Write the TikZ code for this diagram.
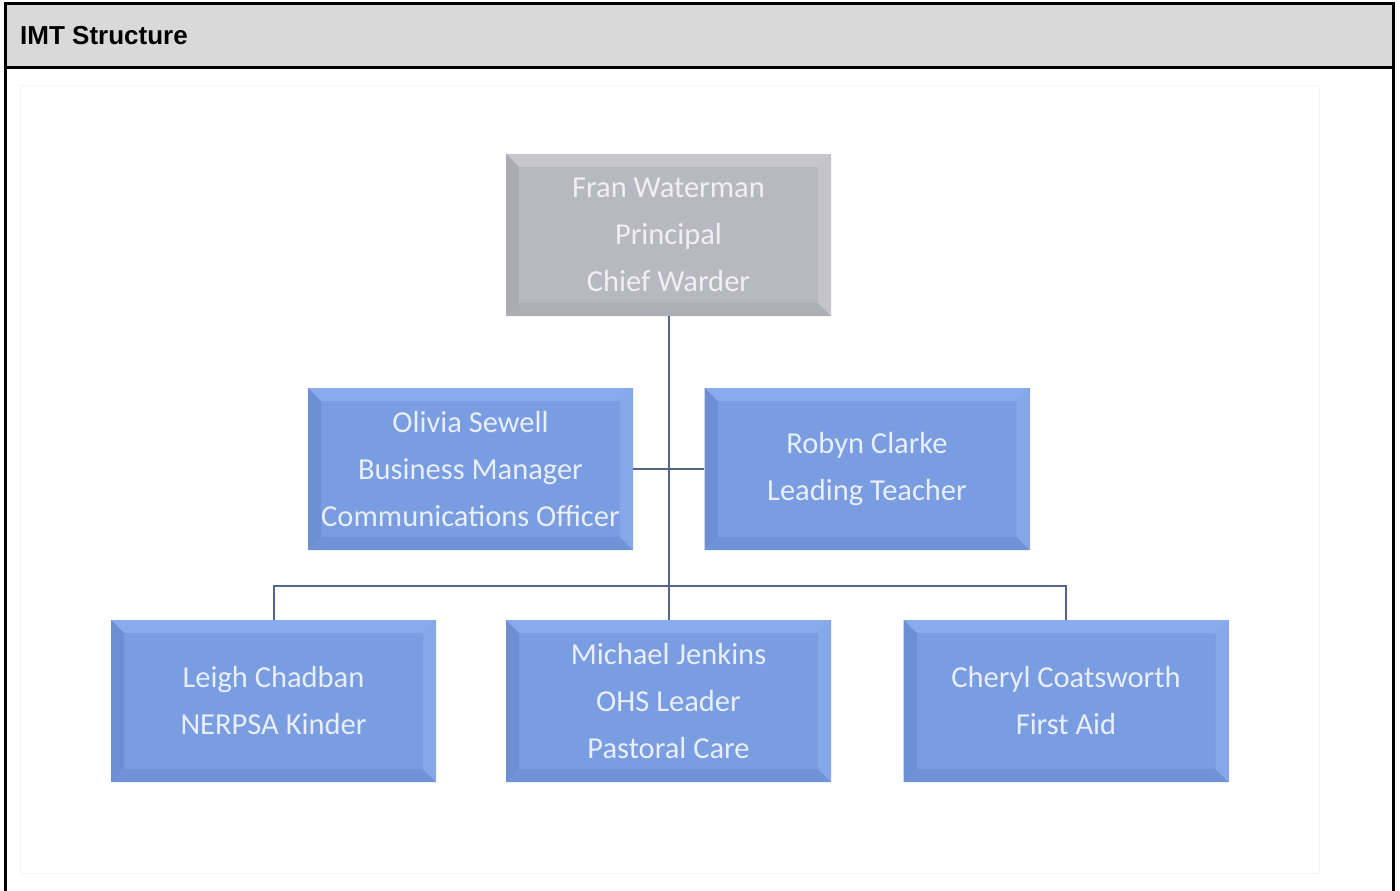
\documentclass[tikz,border=0pt]{standalone}
\usepackage{fontspec}
\setmainfont{Carlito}
\newfontfamily\titlefont{Liberation Sans}
\definecolor{hdr}{HTML}{D9D9D9}
\definecolor{bluefill}{HTML}{7A9CE0}
\definecolor{bluetop}{HTML}{89AAEC}
\definecolor{blueleft}{HTML}{6E8ED3}
\definecolor{bluebot}{HTML}{7092D7}
\definecolor{blueright}{HTML}{86A7EA}
\definecolor{bluetext}{HTML}{E8EFFB}
\definecolor{grayfill}{HTML}{B8B8C0}
\definecolor{graytop}{HTML}{C6C6CC}
\definecolor{grayleft}{HTML}{ABABB4}
\definecolor{graybot}{HTML}{ADADB5}
\definecolor{grayright}{HTML}{C3C3C9}
\definecolor{graytext}{HTML}{F0F0F3}
\definecolor{connc}{HTML}{55648A}
\newlength{\bvw}
\setlength{\bvw}{13pt}
\tikzset{
  bevel/.style n args={4}{path picture={
    \fill[#1] (path picture bounding box.north west) -- (path picture bounding box.north east)
      -- ([xshift=-\bvw,yshift=-\bvw]path picture bounding box.north east)
      -- ([xshift=\bvw,yshift=-\bvw]path picture bounding box.north west) -- cycle;
    \fill[#2] (path picture bounding box.north west) -- (path picture bounding box.south west)
      -- ([xshift=\bvw,yshift=\bvw]path picture bounding box.south west)
      -- ([xshift=\bvw,yshift=-\bvw]path picture bounding box.north west) -- cycle;
    \fill[#3] (path picture bounding box.south west) -- (path picture bounding box.south east)
      -- ([xshift=-\bvw,yshift=\bvw]path picture bounding box.south east)
      -- ([xshift=\bvw,yshift=\bvw]path picture bounding box.south west) -- cycle;
    \fill[#4] (path picture bounding box.north east) -- (path picture bounding box.south east)
      -- ([xshift=-\bvw,yshift=\bvw]path picture bounding box.south east)
      -- ([xshift=-\bvw,yshift=-\bvw]path picture bounding box.north east) -- cycle;
  }},
  orgbox/.style={rectangle, minimum width=325pt, minimum height=162pt, inner sep=0pt,
    align=center, font=\fontsize{30.5}{47}\selectfont},
  bluebox/.style={orgbox, fill=bluefill, text=bluetext, bevel={bluetop}{blueleft}{bluebot}{blueright}},
  graybox/.style={orgbox, fill=grayfill, text=graytext, bevel={graytop}{grayleft}{graybot}{grayright}},
  conn/.style={draw=connc, line width=2pt},
  frame/.style={line width=3pt, black}
}
\begin{document}
\begin{tikzpicture}[x=1pt,y=-1pt]
\useasboundingbox (0,0) rectangle (1400,891);
% header and frame
\fill[hdr] (5,4) rectangle (1393,68);
\draw[frame] (5,891) -- (5,4) -- (1393,4) -- (1393,891);
\draw[frame] (5,68) -- (1393,68);
\node[anchor=base west, font=\titlefont\bfseries\fontsize{26}{30}\selectfont, inner sep=0pt] (title) at (20,45) {IMT Structure};
% faint image border
\draw[black!4, line width=1pt] (20,85) rectangle (1319,873);
% boxes
\node[graybox] (t) at (668.5,235) {Fran Waterman\\Principal\\Chief Warder};
\node[bluebox] (o) at (470.5,469) {Olivia Sewell\\Business Manager\\Communications Officer};
\node[bluebox] (r) at (867,469) {Robyn Clarke\\Leading Teacher};
\node[bluebox] (l) at (273.5,701) {Leigh Chadban\\NERPSA Kinder};
\node[bluebox] (m) at (668.5,701) {Michael Jenkins\\OHS Leader\\Pastoral Care};
\node[bluebox] (c) at (1066,701) {Cheryl Coatsworth\\First Aid};
% connectors
\coordinate (bus) at (668.5,586);
\draw[conn] (t.south) -- (m.north);
\draw[conn] (o.east) -- (r.west);
\draw[conn] (l.north) |- (bus) -| (c.north);
\end{tikzpicture}
\end{document}
